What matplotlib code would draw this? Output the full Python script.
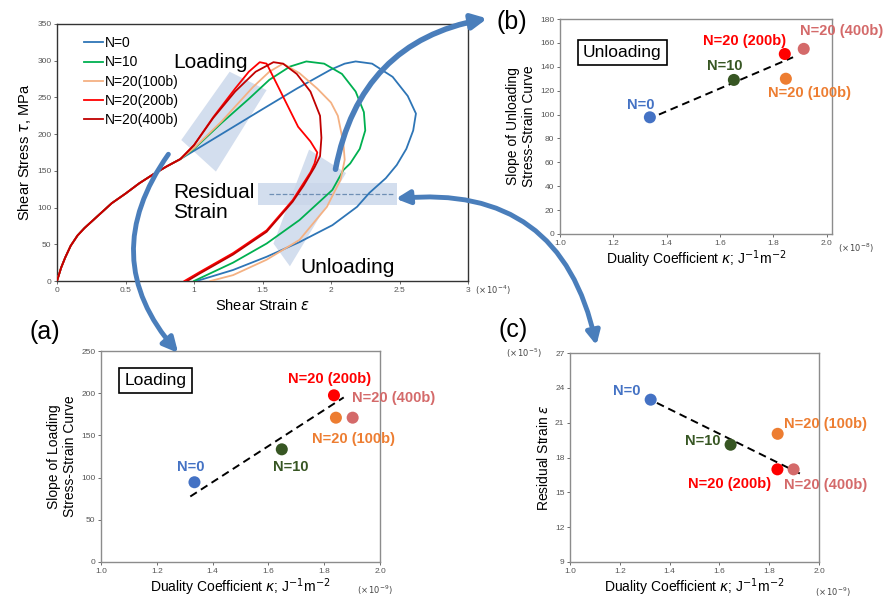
import matplotlib
matplotlib.use("Agg")
import matplotlib.pyplot as plt
from matplotlib.patches import Polygon, FancyArrowPatch

plt.rcParams['font.family'] = ['Liberation Sans', 'DejaVu Sans']

# ---- main stress-strain curves (strain x1e-4, stress MPa) ----
common_x = [0, 0.03, 0.06, 0.1, 0.15, 0.2, 0.3, 0.4, 0.5, 0.6, 0.7, 0.8, 0.9]
common_y = [0, 18, 32, 48, 62, 72, 89, 106, 119, 133, 145, 156, 166]

n0_x = [1.2, 1.5, 1.75, 2.0, 2.1, 2.18, 2.3, 2.45, 2.56, 2.62, 2.6, 2.55, 2.48, 2.4,
        2.28, 2.19, 2.01, 1.77, 1.53, 1.285, 1.02]
n0_y = [200, 234, 262, 288, 296, 299, 296, 278, 252, 228, 205, 180, 158, 140,
        120, 101, 76, 53, 33, 15, 0]
n10_x = [1.0, 1.2, 1.4, 1.55, 1.7, 1.82, 1.95, 2.08, 2.18, 2.24, 2.25, 2.21,
         2.14, 2.09, 2.01, 1.77, 1.53, 1.285, 1.0]
n10_y = [180, 215, 248, 274, 292, 299, 296, 282, 258, 230, 205, 180,
         160, 151, 124, 83, 51, 25, 0]
n100_x = [1.0, 1.2, 1.43, 1.55, 1.65, 1.77, 1.9, 2.0, 2.05, 2.09, 2.1, 2.07,
          1.97, 1.77, 1.53, 1.285, 1.12]
n100_y = [181, 217, 264, 285, 296, 283, 262, 243, 225, 188, 165, 138,
          101, 56, 29, 8, 0]
n200_x = [1.0, 1.14, 1.3, 1.4, 1.48, 1.53, 1.6, 1.68, 1.76, 1.85, 1.9, 1.88,
          1.85, 1.72, 1.53, 1.285, 1.04, 0.93]
n200_y = [185, 223, 262, 285, 298, 296, 270, 240, 210, 190, 175, 160,
          148, 110, 69, 38, 12, 0]
n400_x = [1.0, 1.14, 1.3, 1.45, 1.58, 1.65, 1.75, 1.85, 1.92, 1.93, 1.92, 1.88,
          1.8, 1.72, 1.53, 1.285, 1.04, 0.95]
n400_y = [185, 222, 258, 285, 298, 296, 282, 258, 225, 195, 170, 155,
          130, 108, 67, 36, 10, 0]

curve_labels = ['N=0', 'N=10', 'N=20(100b)', 'N=20(200b)', 'N=20(400b)']
curve_colors = ['#2e75b6', '#00b050', '#f4b183', '#ff0000', '#c00000']

# ---- scatter panels ----
kappa = [1.335, 1.648, 1.842, 1.835, 1.902]       # x1e-9
slope_loading = [94.5, 133.5, 171, 197.5, 171]
kappa_b = [1.337, 1.652, 1.847, 1.843, 1.914]
slope_unloading = [97.7, 129, 130, 150.7, 155]
kappa_c = [1.324, 1.645, 1.834, 1.833, 1.898]
residual = [22.98, 19.1, 20.04, 16.98, 16.98]     # x1e-5
point_labels = ['N=0', 'N=10', 'N=20 (100b)', 'N=20 (200b)', 'N=20 (400b)']
point_colors = ['#4472c4', '#375623', '#ed7d31', '#ff0000', '#d46a6a']

fit_a_x, fit_a_y = [1.32, 1.87], [77.6, 195]
fit_b_x, fit_b_y = [1.371, 1.874], [100, 148]
fit_c_x, fit_c_y = [1.349, 1.925], [22.7, 16.6]

W, H = 884, 602
fig = plt.figure(figsize=(W / 100, H / 100), dpi=100)


def box(l, t, r, b):  # pixel box -> figure fraction
    return [l / W, 1 - b / H, (r - l) / W, (b - t) / H]


def fp(x, y):
    return (x / W, 1 - y / H)


def style(ax):
    for s in ax.spines.values():
        s.set_color('#8c8c8c')
        s.set_linewidth(1.0)
    ax.tick_params(labelsize=6, colors='#555555', length=2, width=0.6, pad=2)


# ---------------- main plot ----------------
ax = fig.add_axes(box(57, 24, 468, 281))
style(ax)
for s in ax.spines.values():
    s.set_color('#333333')
ax.set_xlim(0, 3)
ax.set_ylim(0, 350)
ax.set_xticks([0, 0.5, 1, 1.5, 2, 2.5, 3])
ax.set_xticklabels(['0', '0.5', '1', '1.5', '2', '2.5', '3'])
ax.set_yticks(range(0, 351, 50))

shade = '#c9d6ea'
ax.add_patch(Polygon([(0.907, 192), (1.26, 285), (1.53, 260), (1.16, 149)],
                     closed=True, color=shade, alpha=0.8, lw=0, zorder=1))
ax.add_patch(Polygon([(1.58, 51), (1.84, 179), (2.11, 147), (1.70, 20)],
                     closed=True, color=shade, alpha=0.8, lw=0, zorder=1))
ax.add_patch(Polygon([(1.47, 104), (2.48, 104), (2.48, 133), (1.47, 133)],
                     closed=True, color=shade, alpha=0.8, lw=0, zorder=1))
ax.plot([1.55, 2.45], [119, 119], ls='--', color='#6f8fb5', lw=0.9, zorder=2)

curves = [(n0_x, n0_y), (n10_x, n10_y), (n100_x, n100_y),
          (n200_x, n200_y), (n400_x, n400_y)]
for (cx, cy), lab, col in zip(curves, curve_labels, curve_colors):
    ax.plot(common_x + cx, common_y + cy, color=col, lw=1.3, label=lab, zorder=3)

ax.legend(loc='upper left', bbox_to_anchor=(0.045, 0.985), frameon=False,
          fontsize=10, handlelength=1.4, handletextpad=0.1, labelspacing=0.38,
          borderaxespad=0.2)
ax.text(1.117, 298, 'Loading', fontsize=15, ha='center', va='center')
ax.text(0.85, 107, 'Residual\nStrain', fontsize=15, ha='left', va='center',
        linespacing=1.05)
ax.text(1.78, 19, 'Unloading', fontsize=15, ha='left', va='center')
ax.set_xlabel(r'Shear Strain $\varepsilon$', fontsize=10.5, labelpad=3)
ax.set_ylabel(r'Shear Stress $\tau$, MPa', fontsize=10.5, labelpad=3)
fig.text(475 / W, 1 - 290 / H, r'$(\times\,10^{-4})$', fontsize=6,
         color='#444444', va='center')


def scatter_panel(rect, xs, ys, fit_x, fit_y, ylim, yticks, ylabel,
                  labels_xy, xmax=2.0):
    a = fig.add_axes(rect)
    style(a)
    a.set_xlim(1.0, xmax)
    a.set_ylim(*ylim)
    a.set_xticks([1.0, 1.2, 1.4, 1.6, 1.8, 2.0])
    a.set_xticklabels(['1.0', '1.2', '1.4', '1.6', '1.8', '2.0'])
    a.set_yticks(yticks)
    a.plot(fit_x, fit_y, ls='--', color='black', lw=1.4, dashes=(4, 2.5), zorder=2)
    for x, y, c in zip(xs, ys, point_colors):
        a.scatter(x, y, s=75, color=c, zorder=3, edgecolors='none')
    for (tx, ty), lab, c in zip(labels_xy, point_labels, point_colors):
        a.text(tx, ty, lab, color=c, fontsize=10.5, fontweight='bold',
               ha='center', va='center')
    a.set_xlabel(r'Duality Coefficient $\kappa$; J$^{-1}$m$^{-2}$', fontsize=10,
                 labelpad=1)
    a.set_ylabel(ylabel, fontsize=10, labelpad=3)
    return a


def label_box(a, x, y, txt):
    a.text(x, y, txt, fontsize=12.5, ha='center', va='center',
           bbox=dict(boxstyle='square,pad=0.3', fc='white', ec='black', lw=1.2))


# (b) unloading
ax_b = scatter_panel(box(560, 19, 832, 234), kappa_b, slope_unloading,
                     fit_b_x, fit_b_y, (0, 180), range(0, 181, 20),
                     'Slope of Unloading\nStress-Strain Curve',
                     [(1.302, 108), (1.616, 141), (1.937, 118), (1.692, 162),
                      (2.057, 170)], xmax=2.02)
label_box(ax_b, 1.233, 152, 'Unloading')
fig.text(838 / W, 1 - 248 / H, r'$(\times\,10^{-8})$', fontsize=6,
         color='#444444', va='center')

# (a) loading
ax_a = scatter_panel(box(101, 351, 380, 562), kappa, slope_loading,
                     fit_a_x, fit_a_y, (0, 250), range(0, 251, 50),
                     'Slope of Loading\nStress-Strain Curve',
                     [(1.32, 113), (1.68, 113), (1.905, 146), (1.82, 217),
                      (2.05, 194)])
label_box(ax_a, 1.195, 215, 'Loading')
fig.text(357 / W, 1 - 590 / H, r'$(\times\,10^{-9})$', fontsize=6,
         color='#444444', va='center')

# (c) residual strain
ax_c = scatter_panel(box(570, 353, 819, 562), kappa_c, residual,
                     fit_c_x, fit_c_y, (9, 27), range(9, 28, 3),
                     r'Residual Strain $\varepsilon$',
                     [(1.227, 23.7), (1.532, 19.46), (2.027, 20.9), (1.64, 15.7),
                      (2.027, 15.6)])
fig.text(815 / W, 1 - 592 / H, r'$(\times\,10^{-9})$', fontsize=6,
         color='#444444', va='center')
fig.text(506 / W, 1 - 353 / H, r'$(\times\,10^{-5})$', fontsize=6,
         color='#444444', va='center')

fig.text(30 / W, 1 - 332 / H, '(a)', fontsize=18, va='center')
fig.text(496 / W, 1 - 22 / H, '(b)', fontsize=18, va='center')
fig.text(499 / W, 1 - 330 / H, '(c)', fontsize=18, va='center')

# connecting arrows
arrow_col = '#4a7ebb'
arr1 = FancyArrowPatch(fp(170, 152), fp(180, 355), transform=fig.transFigure,
                       connectionstyle='arc3,rad=0.4', arrowstyle='-|>',
                       mutation_scale=22, lw=3.5, color=arrow_col, zorder=10)
arr2 = FancyArrowPatch(fp(335, 172), fp(490, 18), transform=fig.transFigure,
                       connectionstyle='arc3,rad=-0.35', arrowstyle='-|>',
                       mutation_scale=22, lw=4, color=arrow_col, zorder=10)
arr3 = FancyArrowPatch(fp(393, 199), fp(597, 348), transform=fig.transFigure,
                       connectionstyle='arc3,rad=-0.45', arrowstyle='<|-|>',
                       mutation_scale=20, lw=3.5, color=arrow_col, zorder=10)
for a in (arr1, arr2, arr3):
    fig.add_artist(a)

fig.savefig('out.png', dpi=100)
